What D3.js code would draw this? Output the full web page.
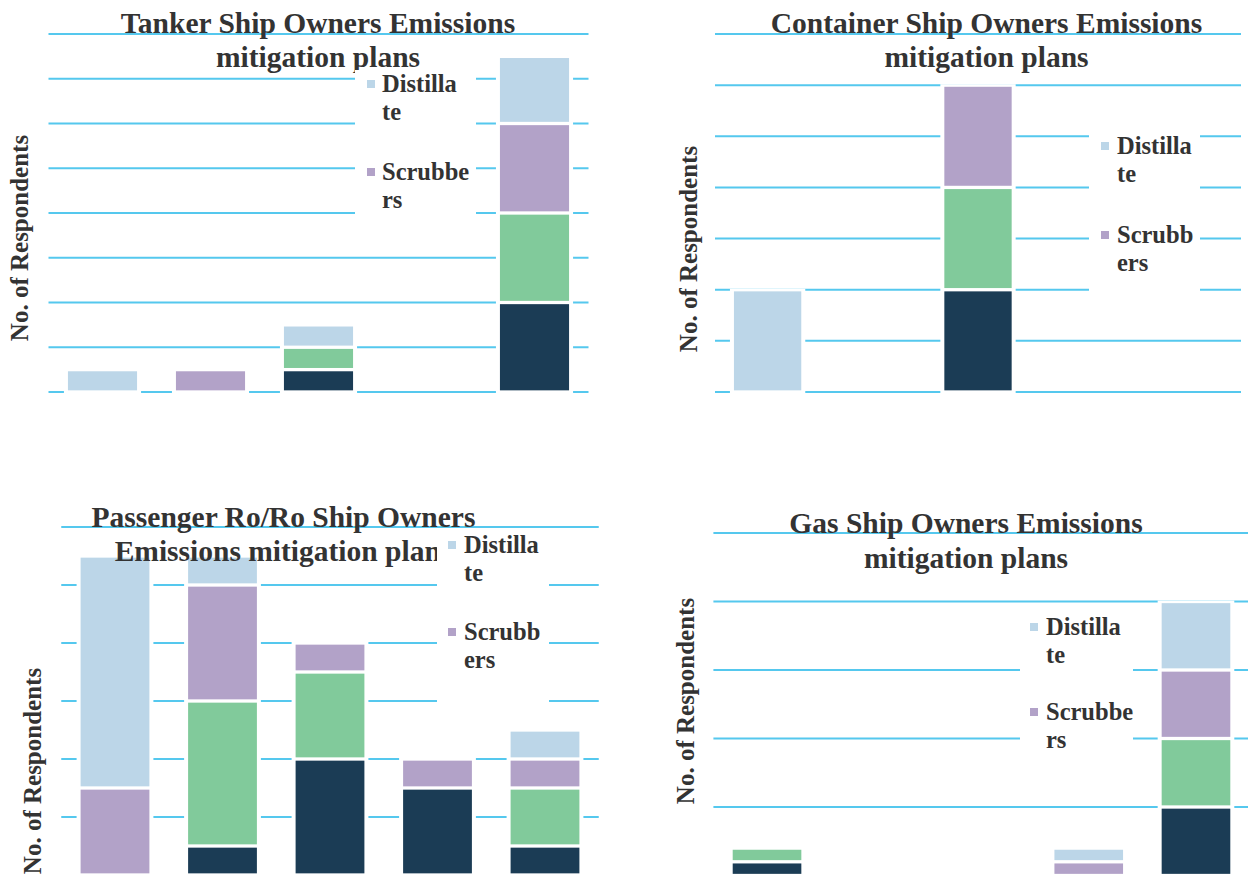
<!DOCTYPE html>
<html>
<head>
<meta charset="utf-8">
<script src="https://cdn.jsdelivr.net/npm/d3@7"></script>
<style>
  body { margin: 0; background: #fff; }
  svg { display: block; }
  text { font-family: "Liberation Serif", "Times New Roman", serif; font-weight: bold; fill: #333; }
</style>
</head>
<body>
<svg id="chart" width="1248" height="874"></svg>
<script>
// categories are not labelled in the picture (axis is cropped off)
const categories = ["1", "2", "3", "4", "5"];
// bottom to top in the stack
const seriesNames = ["Series 1", "Series 2", "Scrubbers", "Distillate"];
const seriesColors = ["#1b3c55", "#81ca9b", "#b2a2c8", "#bcd6e8"];

// Tanker
const tankerSeries1 = [0, 0, 1, 0, 4];
const tankerSeries2 = [0, 0, 1, 0, 4];
const tankerScrubbers = [0, 1, 0, 0, 4];
const tankerDistillate = [1, 0, 1, 0, 3];
const tankerTicks = [0, 2, 4, 6, 8, 10, 12, 14, 16];

// Container
const containerSeries1 = [0, 0, 1, 0, 0];
const containerSeries2 = [0, 0, 1, 0, 0];
const containerScrubbers = [0, 0, 1, 0, 0];
const containerDistillate = [1, 0, 0, 0, 0];
const containerTicks = [0, 0.5, 1, 1.5, 2, 2.5, 3, 3.5];

// Passenger Ro/Ro
const passengerSeries1 = [0, 1, 4, 3, 1];
const passengerSeries2 = [0, 5, 3, 0, 2];
const passengerScrubbers = [3, 4, 1, 1, 1];
const passengerDistillate = [8, 1, 0, 0, 1];
const passengerTicks = [0, 2, 4, 6, 8, 10, 12];

// Gas
const gasSeries1 = [1, 0, 0, 0, 5];
const gasSeries2 = [1, 0, 0, 0, 5];
const gasScrubbers = [0, 0, 0, 1, 5];
const gasDistillate = [0, 0, 0, 1, 5];
const gasTicks = [0, 5, 10, 15, 20, 25];

const panels = [
  {
    title: ["Tanker Ship Owners Emissions", "mitigation plans"],
    values: [tankerSeries1, tankerSeries2, tankerScrubbers, tankerDistillate],
    ticks: tankerTicks,
    x0: 48.5, x1: 588.5, yTop: 34, yBase: 392,
    titleX: 318, titleY: 33, titleGap: 33.5,
    legendBox: [355, 70, 121, 162],
    legendLabels: [["Distilla", "te"], ["Scrubbe", "rs"]],
    mx: 367, tx: 382, ly: 92, lGap: 88,
    yLabX: 28, yLabY: 238
  },
  {
    title: ["Container Ship Owners Emissions", "mitigation plans"],
    values: [containerSeries1, containerSeries2, containerScrubbers, containerDistillate],
    ticks: containerTicks,
    x0: 715, x1: 1241, yTop: 34, yBase: 392,
    titleX: 986.5, titleY: 33, titleGap: 33.5,
    legendBox: [1089, 100, 111, 205],
    legendLabels: [["Distilla", "te"], ["Scrubb", "ers"]],
    mx: 1101, tx: 1117, ly: 154, lGap: 89,
    yLabX: 697, yLabY: 249
  },
  {
    title: ["Passenger Ro/Ro Ship Owners", "Emissions mitigation plans"],
    values: [passengerSeries1, passengerSeries2, passengerScrubbers, passengerDistillate],
    ticks: passengerTicks,
    x0: 61.25, x1: 598.75, yTop: 527, yBase: 875,
    titleX: 283.5, titleY: 527, titleGap: 34,
    legendBox: [437, 533, 112, 195],
    legendLabels: [["Distilla", "te"], ["Scrubb", "ers"]],
    mx: 448, tx: 464, ly: 553, lGap: 87,
    yLabX: 41, yLabY: 771
  },
  {
    title: ["Gas Ship Owners Emissions", "mitigation plans"],
    values: [gasSeries1, gasSeries2, gasScrubbers, gasDistillate],
    ticks: gasTicks,
    x0: 713.4, x1: 1249.6, yTop: 533, yBase: 875.5,
    titleX: 966, titleY: 533, titleGap: 35,
    legendBox: [1020, 612, 113, 183],
    legendLabels: [["Distilla", "te"], ["Scrubbe", "rs"]],
    mx: 1030, tx: 1046, ly: 635, lGap: 85,
    yLabX: 694, yLabY: 701
  }
];

const svg = d3.select("#chart");
svg.append("rect").attr("width", 1248).attr("height", 874).attr("fill", "#fff");

function drawPanel(p) {
  const g = svg.append("g");

  const x = d3.scaleBand()
    .domain(categories)
    .range([p.x0, p.x1])
    .paddingInner(0.36)
    .paddingOuter(0.18);
  const y = d3.scaleLinear()
    .domain([0, d3.max(p.ticks)])
    .range([p.yBase, p.yTop]);

  g.selectAll(".grid")
    .data(p.ticks)
    .join("line")
    .attr("class", "grid")
    .attr("x1", p.x0).attr("x2", p.x1)
    .attr("y1", d => y(d)).attr("y2", d => y(d))
    .attr("stroke", "#55c8ee")
    .attr("stroke-width", 2);

  const rows = categories.map((c, i) => {
    const r = { cat: c };
    seriesNames.forEach((s, k) => r[s] = p.values[k][i]);
    return r;
  });
  const stacked = d3.stack().keys(seriesNames)(rows);
  const totals = rows.map(r => d3.sum(seriesNames, s => r[s]));

  // white gap round each bar hides the gridlines
  g.selectAll(".knock")
    .data(rows.filter((r, i) => totals[i] > 0))
    .join("rect")
    .attr("class", "knock")
    .attr("x", d => x(d.cat) - 4)
    .attr("y", d => y(d3.sum(seriesNames, s => d[s])) - 1)
    .attr("width", x.bandwidth() + 8)
    .attr("height", d => y(0) - y(d3.sum(seriesNames, s => d[s])) + 3)
    .attr("fill", "#fff");

  const gap = 3.3;
  g.selectAll(".layer")
    .data(stacked)
    .join("g")
    .attr("class", "layer")
    .attr("fill", (d, i) => seriesColors[i])
    .selectAll("rect")
    .data(d => d.filter(v => v[1] > v[0]))
    .join("rect")
    .attr("x", d => x(d.data.cat))
    .attr("y", d => y(d[1]) + gap / 2)
    .attr("width", x.bandwidth())
    .attr("height", d => y(d[0]) - y(d[1]) - gap);

  g.append("text")
    .attr("text-anchor", "middle")
    .attr("font-size", 29.5)
    .selectAll("tspan")
    .data(p.title)
    .join("tspan")
    .attr("x", p.titleX)
    .attr("y", (d, i) => p.titleY + i * p.titleGap)
    .text(d => d);

  const [bx, by, bw, bh] = p.legendBox;
  g.append("rect")
    .attr("x", bx).attr("y", by).attr("width", bw).attr("height", bh)
    .attr("fill", "#fff");

  // legend lists the top series first, only two entries fit
  const legendColors = [seriesColors[3], seriesColors[2]];
  p.legendLabels.forEach((lines, i) => {
    const ly = p.ly + i * p.lGap;
    g.append("rect")
      .attr("x", p.mx).attr("y", ly - 12)
      .attr("width", 8).attr("height", 8)
      .attr("fill", legendColors[i]);
    g.append("text")
      .attr("font-size", 24.5)
      .selectAll("tspan")
      .data(lines)
      .join("tspan")
      .attr("x", p.tx)
      .attr("y", (d, j) => ly + j * 28)
      .text(d => d);
  });

  g.append("text")
    .attr("transform", `translate(${p.yLabX},${p.yLabY}) rotate(-90)`)
    .attr("text-anchor", "middle")
    .attr("font-size", 25)
    .text("No. of Respondents");
}

panels.forEach(drawPanel);
</script>
</body>
</html>
